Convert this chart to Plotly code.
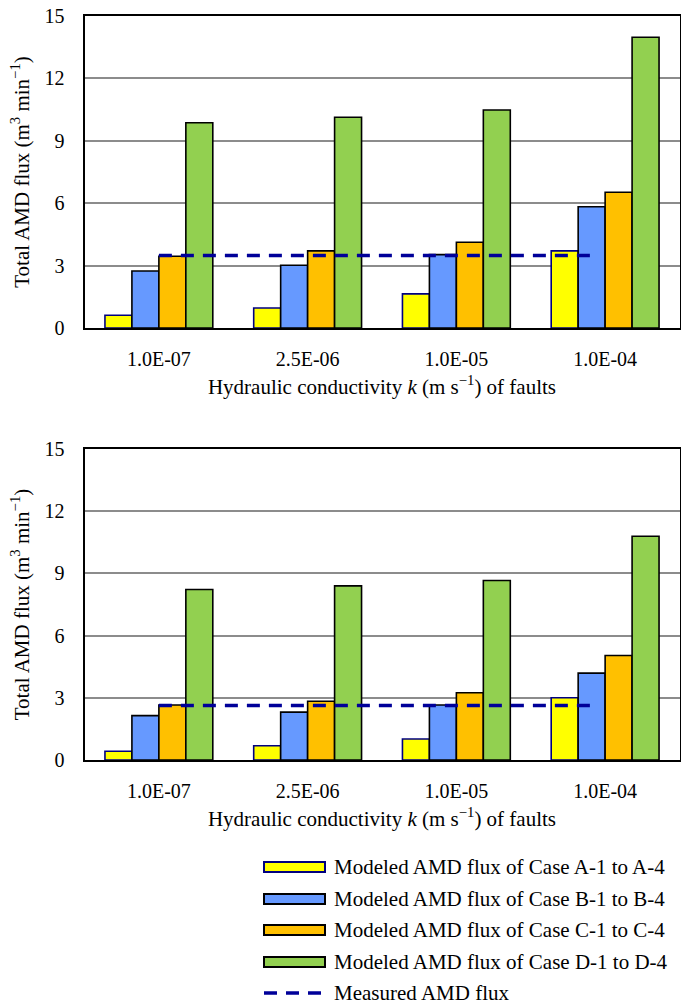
import plotly.graph_objects as go

# ---------------- data ----------------
categories = ["1.0E-07", "2.5E-06", "1.0E-05", "1.0E-04"]
series_names = [
    "Modeled AMD flux of Case A-1 to A-4",
    "Modeled AMD flux of Case B-1 to B-4",
    "Modeled AMD flux of Case C-1 to C-4",
    "Modeled AMD flux of Case D-1 to D-4",
]
measured_name = "Measured AMD flux"

top_A = [0.61, 0.96, 1.64, 3.71]
top_B = [2.74, 3.02, 3.53, 5.83]
top_C = [3.45, 3.71, 4.12, 6.53]
top_D = [9.87, 10.13, 10.48, 13.98]
top_measured = 3.48

bot_A = [0.42, 0.69, 1.01, 3.00]
bot_B = [2.14, 2.31, 2.65, 4.19]
bot_C = [2.65, 2.83, 3.24, 5.04]
bot_D = [8.22, 8.40, 8.66, 10.79]
bot_measured = 2.63

# measured line extent, in category-index units
measured_span = [0.0, 2.92]

y_ticks = [0, 3, 6, 9, 12, 15]

# ---------------- style ----------------
fill_colors = ["#FFFF00", "#6699FF", "#FFC000", "#92D050"]
line_colors = ["#000080", "#000000", "#000000", "#000000"]
measured_color = "#000099"
FONT = "Liberation Serif"
W, H = 681, 1008


def px_x(v):
    return v / W


def px_y(v):
    return 1 - v / H


fig = go.Figure()

panels = [
    ("x", "y", [top_A, top_B, top_C, top_D], top_measured),
    ("x2", "y2", [bot_A, bot_B, bot_C, bot_D], bot_measured),
]

xpos = list(range(len(categories)))
for pi, (xa, ya, series, meas) in enumerate(panels):
    for name, vals, fc, lc in zip(series_names, series, fill_colors, line_colors):
        fig.add_trace(go.Bar(
            x=xpos, y=vals, name=name, xaxis=xa, yaxis=ya,
            marker=dict(color=fc, line=dict(color=lc, width=1.6)),
            showlegend=False,
        ))
    fig.add_trace(go.Scatter(
        x=measured_span, y=[meas, meas], name=measured_name, mode="lines",
        xaxis=xa, yaxis=ya,
        line=dict(color=measured_color, width=3.5, dash="13px,9px"),
        showlegend=False,
    ))

x_dom = [px_x(84.5), px_x(679.5)]
xtitle = "Hydraulic conductivity <i>k</i> (m s<sup>−1</sup>) of faults"
ytitle = "Total AMD flux (m<sup>3</sup> min<sup>−1</sup>)"

common_x = dict(
    range=[-0.5, len(categories) - 0.5], tickvals=xpos, ticktext=categories,
    showline=True, mirror=True, linecolor="black", linewidth=2,
    showgrid=False, zeroline=False, ticks="", ticklabelstandoff=12,
    tickfont=dict(family=FONT, size=20, color="black"),
    title=dict(text=xtitle, font=dict(family=FONT, size=21, color="black"), standoff=10),
    automargin=False, fixedrange=True,
)
common_y = dict(
    range=[0, 15], tickvals=y_ticks,
    showline=True, mirror=True, linecolor="black", linewidth=2,
    showgrid=True, gridcolor="#8c8c8c", gridwidth=1.5, zeroline=False,
    ticks="", ticklabelstandoff=14,
    tickfont=dict(family=FONT, size=20, color="black"),
    title=dict(text=ytitle, font=dict(family=FONT, size=21, color="black"), standoff=9),
    automargin=False, fixedrange=True,
)

fig.update_layout(
    width=W, height=H,
    margin=dict(l=0, r=0, t=0, b=0),
    paper_bgcolor="white", plot_bgcolor="white",
    barmode="group", bargap=0.275, bargroupgap=0,
    showlegend=False,
    xaxis=dict(common_x, domain=x_dom, anchor="y"),
    yaxis=dict(common_y, domain=[px_y(328), px_y(16)], anchor="x"),
    xaxis2=dict(common_x, domain=x_dom, anchor="y2"),
    yaxis2=dict(common_y, domain=[px_y(760), px_y(449)], anchor="x2"),
)

# ---------------- custom legend ----------------
leg_x0, leg_x1, leg_tx = 264, 325, 332
leg_y = [867, 899, 930, 962, 993]
for name, fc, lc, yy in zip(series_names, fill_colors, line_colors, leg_y):
    fig.add_shape(type="rect", xref="paper", yref="paper",
                  x0=px_x(leg_x0), x1=px_x(leg_x1), y0=px_y(yy + 5), y1=px_y(yy - 5),
                  fillcolor=fc, line=dict(color=lc, width=2))
    fig.add_annotation(text=name, xref="paper", yref="paper", x=px_x(leg_tx), y=px_y(yy),
                       xanchor="left", yanchor="middle", showarrow=False,
                       font=dict(family=FONT, size=21, color="black"))
fig.add_shape(type="line", xref="paper", yref="paper",
              x0=px_x(leg_x0), x1=px_x(leg_x1), y0=px_y(leg_y[4]), y1=px_y(leg_y[4]),
              line=dict(color=measured_color, width=3.5, dash="13px,9px"))
fig.add_annotation(text=measured_name, xref="paper", yref="paper", x=px_x(leg_tx), y=px_y(leg_y[4]),
                   xanchor="left", yanchor="middle", showarrow=False,
                   font=dict(family=FONT, size=21, color="black"))

fig.write_html("out.html")
